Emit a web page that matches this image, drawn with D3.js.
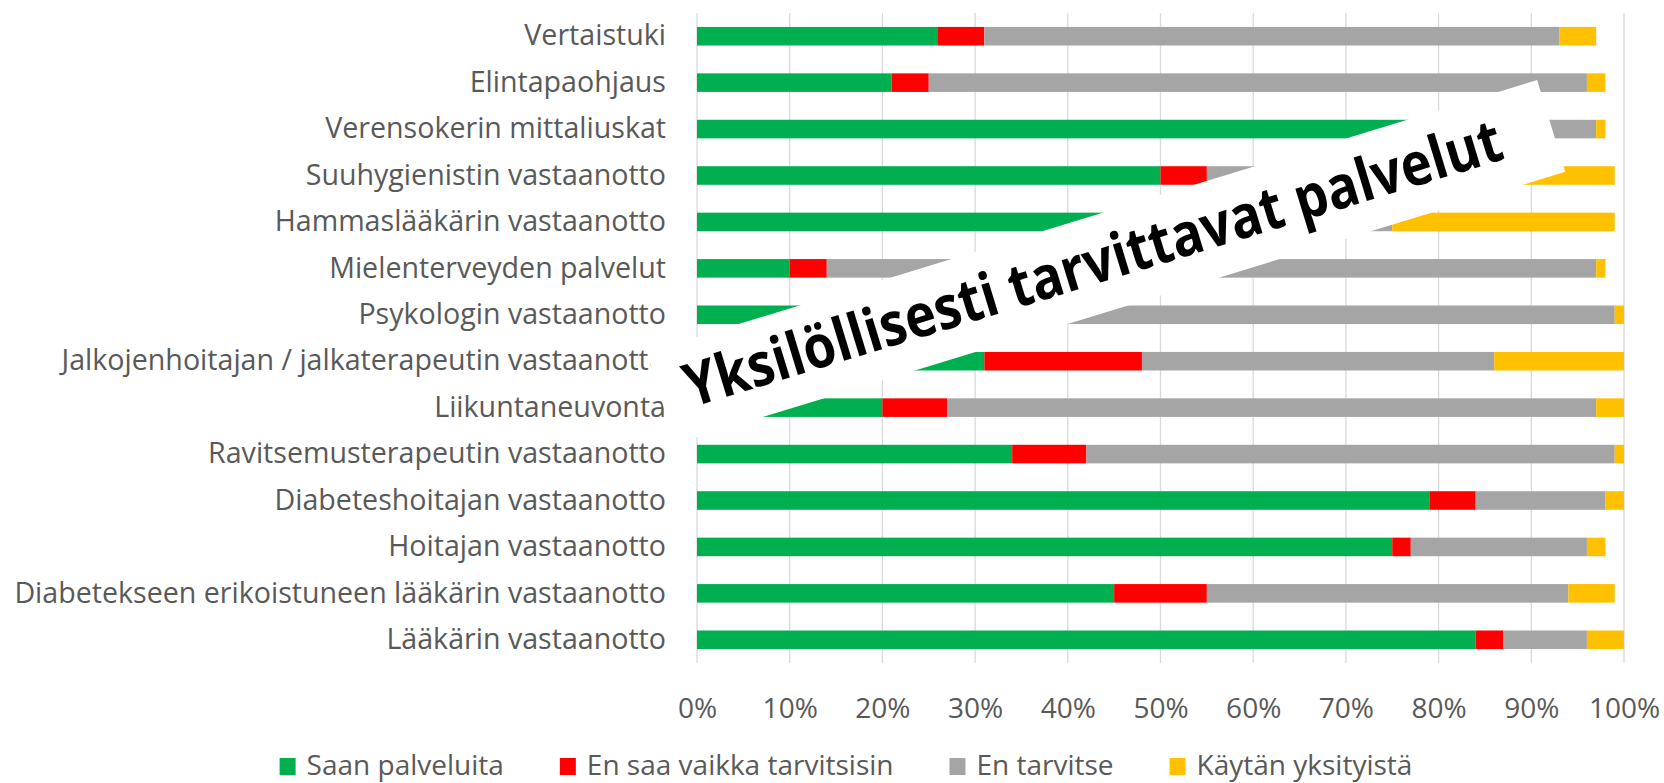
<!DOCTYPE html>
<html>
<head>
<meta charset="utf-8">
<script src="https://cdn.jsdelivr.net/npm/d3@7"></script>
<style>
  body { margin: 0; background: #fff; }
  svg { display: block; }
  text { font-family: "Open Sans", sans-serif; }
</style>
</head>
<body>
<svg id="chart" width="1664" height="783"></svg>
<script>
// categories, top to bottom
const categories = [
  "Vertaistuki",
  "Elintapaohjaus",
  "Verensokerin mittaliuskat",
  "Suuhygienistin vastaanotto",
  "Hammaslääkärin vastaanotto",
  "Mielenterveyden palvelut",
  "Psykologin vastaanotto",
  "Jalkojenhoitajan / jalkaterapeutin vastaanotto",
  "Liikuntaneuvonta",
  "Ravitsemusterapeutin vastaanotto",
  "Diabeteshoitajan vastaanotto",
  "Hoitajan vastaanotto",
  "Diabetekseen erikoistuneen lääkärin vastaanotto",
  "Lääkärin vastaanotto"
];

const seriesNames = ["Saan palveluita", "En saa vaikka tarvitsisin", "En tarvitse", "Käytän yksityistä"];
const seriesColors = ["#00b050", "#ff0000", "#a5a5a5", "#ffc000"];

// percent values per category
const saan       = [26, 21, 86, 50, 55, 10, 12, 31, 20, 34, 79, 75, 45, 84];
const enSaa      = [ 5,  4,  3,  5,  8,  4,  6, 17,  7,  8,  5,  2, 10,  3];
const enTarvitse = [62, 71,  8, 33, 12, 83, 81, 38, 70, 57, 14, 19, 39,  9];
const yksityista = [ 4,  2,  1, 11, 24,  1,  1, 14,  3,  1,  2,  2,  5,  4];

const tickValues = [0, 10, 20, 30, 40, 50, 60, 70, 80, 90, 100];
const tickLabels = ["0%", "10%", "20%", "30%", "40%", "50%", "60%", "70%", "80%", "90%", "100%"];

const bannerText = "Yksilöllisesti tarvittavat palvelut";

const rows = categories.map((c, i) => ({
  cat: c,
  s0: saan[i], s1: enSaa[i], s2: enTarvitse[i], s3: yksityista[i]
}));
const keys = ["s0", "s1", "s2", "s3"];

let svg = d3.select("#chart");
let plotLeft = 697, plotRight = 1624, plotTop = 13, plotBottom = 663;

let x = d3.scaleLinear().domain([0, 100]).range([plotLeft, plotRight]);
let y = d3.scaleBand().domain(categories).range([plotTop, plotBottom]).paddingInner(0.6).paddingOuter(0.3);

// gridlines
svg.append("g")
  .selectAll("line")
  .data(tickValues)
  .enter()
  .append("line")
  .attr("x1", d => x(d)).attr("x2", d => x(d))
  .attr("y1", plotTop).attr("y2", plotBottom)
  .attr("stroke", "#d9d9d9")
  .attr("stroke-width", 1.3);

// x tick labels
let xAxis = svg.append("g")
  .attr("transform", "translate(0," + plotBottom + ")")
  .call(d3.axisBottom(x).tickValues(tickValues).tickSize(0).tickPadding(35)
    .tickFormat((d, i) => tickLabels[i]));
xAxis.select(".domain").remove();
xAxis.selectAll("text")
  .attr("font-family", "Open Sans")
  .attr("font-size", "28px")
  .attr("fill", "#595959");

// category labels
let yAxis = svg.append("g")
  .attr("transform", "translate(" + plotLeft + ",0)")
  .call(d3.axisLeft(y).tickSize(0).tickPadding(31));
yAxis.select(".domain").remove();
yAxis.selectAll("text")
  .attr("font-family", "Open Sans")
  .attr("font-size", "28.6px")
  .attr("fill", "#595959");

// stacked bars
let stacked = d3.stack().keys(keys)(rows);
svg.append("g")
  .selectAll("g")
  .data(stacked)
  .enter()
  .append("g")
  .attr("fill", (d, i) => seriesColors[i])
  .selectAll("rect")
  .data(d => d)
  .enter()
  .append("rect")
  .attr("x", d => x(d[0]))
  .attr("y", d => y(d.data.cat))
  .attr("width", d => x(d[1]) - x(d[0]))
  .attr("height", y.bandwidth());

// legend
let legend = svg.append("g").attr("transform", "translate(0,765)");
let items = legend.selectAll("g")
  .data(seriesNames)
  .enter()
  .append("g");
items.append("rect")
  .attr("width", 16).attr("height", 17)
  .attr("y", -7)
  .attr("fill", (d, i) => seriesColors[i]);
items.append("text")
  .attr("x", 27)
  .attr("dy", "0.35em")
  .attr("font-size", "28px")
  .attr("fill", "#595959")
  .text(d => d);
let pos = 0, offsets = [];
items.each(function () {
  offsets.push(pos);
  pos += 27 + d3.select(this).select("text").node().getComputedTextLength() + 56;
});
let legendWidth = pos - 56;
let legendStart = 846 - legendWidth / 2;
items.attr("transform", (d, i) => "translate(" + (legendStart + offsets[i]) + ",0)");

// rotated banner over the chart
let banner = svg.append("g").attr("transform", "translate(1106,262) rotate(-17)");
banner.append("rect")
  .attr("x", -465.5).attr("y", -48)
  .attr("width", 931).attr("height", 96)
  .attr("fill", "#fff");
banner.append("text")
  .attr("x", -13).attr("y", 18)
  .attr("text-anchor", "middle")
  .attr("font-size", "60px")
  .attr("font-weight", "bold")
  .attr("fill", "#000")
  .attr("textLength", 852)
  .attr("lengthAdjust", "spacingAndGlyphs")
  .text(bannerText);
</script>
</body>
</html>
